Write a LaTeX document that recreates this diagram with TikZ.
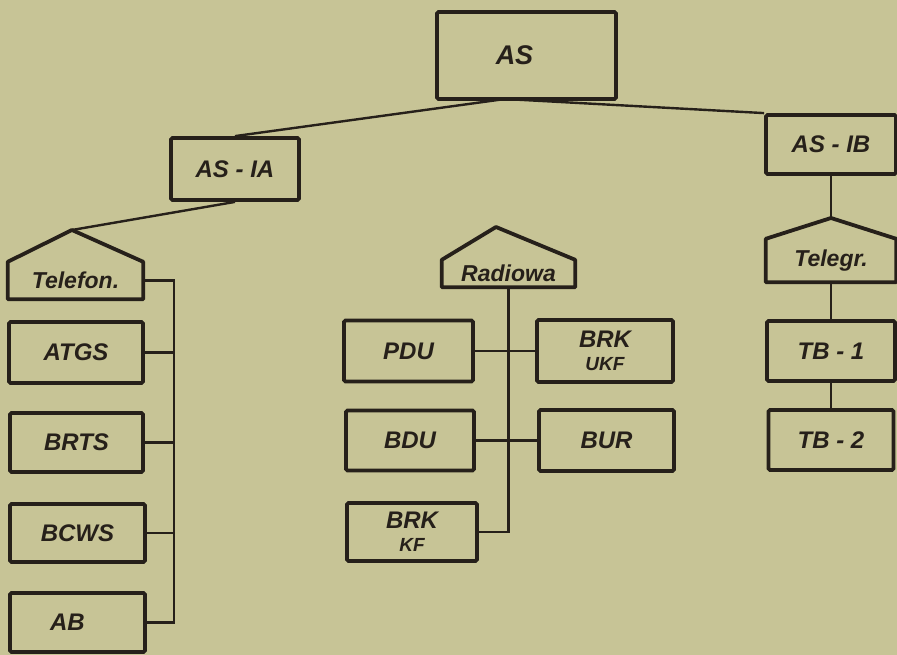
\documentclass[tikz,border=0pt]{standalone}
\usepackage{fontspec}
\setmainfont{Liberation Sans}
\definecolor{paper}{RGB}{199,196,150}
\definecolor{ink}{RGB}{38,32,26}
\begin{document}
\begin{tikzpicture}[x=1pt,y=-1pt,
  box/.style={draw=ink, line width=3.8pt, rounded corners=1.5pt, inner sep=0pt, text=ink,
    font=\bfseries\itshape\fontsize{24}{24}\selectfont},
  body/.style={inner sep=0pt, text=ink, font=\bfseries\itshape\fontsize{23}{23}\selectfont},
  roof/.style={draw=ink, line width=3.8pt, line join=round},
  conn/.style={draw=ink, line width=2.4pt}]
\fill[paper] (0,0) rectangle (897,655);
\useasboundingbox (0,0) rectangle (897,655);
% top level
\node[box, minimum width=179pt, minimum height=87pt, font=\bfseries\itshape\fontsize{27}{27}\selectfont] (as) at (526.5,55.5) {\hspace*{-24pt}AS};
\node[box, minimum width=128pt, minimum height=62pt] (asia) at (235,169) {AS - IA};
\node[box, minimum width=130pt, minimum height=59pt] (asib) at (831,144.5) {AS - IB};
\coordinate (asj) at (505,99);
% Telefon branch
\node[body, minimum width=135pt, minimum height=37pt] (tel) at (75.5,280.5) {Telefon.};
\coordinate (telapex) at (72,230);
\draw[roof] (tel.south west) -- (tel.north west) -- (telapex) -- (tel.north east) -- (tel.south east) -- cycle;
\node[box, minimum width=134pt, minimum height=61pt] (atgs) at (76,352.5) {ATGS};
\node[box, minimum width=133pt, minimum height=59pt] (brts) at (76.5,442.5) {BRTS};
\node[box, minimum width=135pt, minimum height=58pt] (bcws) at (77.5,533) {BCWS};
\node[box, minimum width=135pt, minimum height=59pt] (ab) at (77.5,622.5) {\hspace*{-20pt}AB};
\coordinate (busL) at (174,0);
% Radiowa branch
\node[body, minimum width=133pt, minimum height=27pt] (rad) at (508.5,273.5) {Radiowa};
\coordinate (radapex) at (496,227);
\draw[roof] (rad.south west) -- (rad.north west) -- (radapex) -- (rad.north east) -- (rad.south east) -- cycle;
\node[box, minimum width=129pt, minimum height=61pt] (pdu) at (408.5,351) {PDU};
\node[box, minimum width=128pt, minimum height=60pt] (bdu) at (410,440.5) {BDU};
\node[box, minimum width=130pt, minimum height=58pt, align=center] (brkkf) at (412,532)
  {BRK\\[-1pt]{\fontsize{19}{19}\selectfont KF}};
\node[box, minimum width=136pt, minimum height=62pt, align=center] (brkukf) at (605,351)
  {BRK\\[-1pt]{\fontsize{19}{19}\selectfont UKF}};
\node[box, minimum width=135pt, minimum height=61pt] (bur) at (606.5,440.5) {BUR};
% Telegr branch
\node[body, minimum width=130pt, minimum height=43pt] (tg) at (831,260.5) {Telegr.};
\coordinate (tgapex) at (831,218);
\draw[roof] (tg.south west) -- (tg.north west) -- (tgapex) -- (tg.north east) -- (tg.south east) -- cycle;
\node[box, minimum width=128pt, minimum height=60pt] (tb1) at (831,351) {TB - 1};
\node[box, minimum width=125pt, minimum height=60pt] (tb2) at (831,440) {TB - 2};
% connectors
\draw[conn] (asj) -- (asia.north);
\draw[conn] (asj) -- (asib.north west);
\draw[conn] (asia.south) -- (telapex);
\draw[conn] (asib.south) -- (tgapex);
\draw[conn] (tel.east) -| (busL |- ab.east) -- (ab.east);
\draw[conn] (atgs.east) -- (atgs.east -| busL);
\draw[conn] (brts.east) -- (brts.east -| busL);
\draw[conn] (bcws.east) -- (bcws.east -| busL);
\draw[conn] (rad.south) |- (brkkf.east);
\draw[conn] (pdu.east) -- (brkukf.west);
\draw[conn] (bdu.east) -- (bur.west);
\draw[conn] (tg.south) -- (tb1.north);
\draw[conn] (tb1.south) -- (tb2.north);
\end{tikzpicture}
\end{document}
